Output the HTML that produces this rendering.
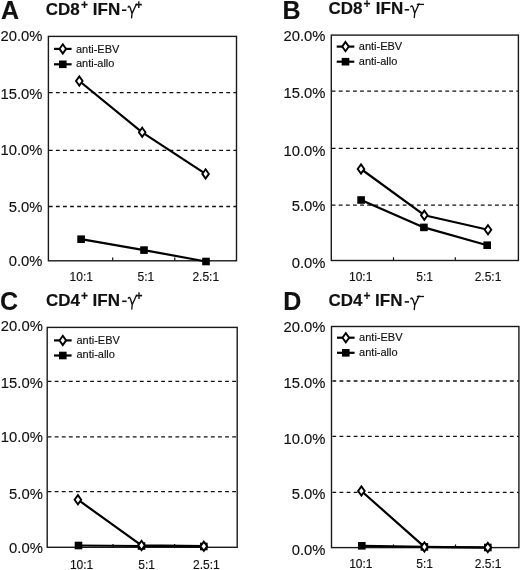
<!DOCTYPE html>
<html><head><meta charset="utf-8"><title>Figure</title>
<style>
html,body{margin:0;padding:0;background:#fff;width:520px;height:570px;overflow:hidden}
svg{display:block;will-change:transform}
text{font-family:"Liberation Sans",sans-serif;fill:#111;stroke:#111;stroke-width:0.15}
.yl{font-size:14.8px;text-anchor:end}
.xl{font-size:12px;text-anchor:middle}
.lg{font-size:11px}
.tt{font-size:17px;font-weight:bold}
.sp{font-size:12px;font-weight:bold}
.gm{fill:none;stroke:#111;stroke-width:1.35;stroke-linecap:round;stroke-linejoin:round}
.mn{stroke:#111;stroke-width:1.3}
.hy{fill:#111}
.pl{font-size:25px;font-weight:bold}
.bx{fill:none;stroke:#1a1a1a;stroke-width:1.4}
.gr{stroke:#111;stroke-width:1.3;stroke-dasharray:3.8 3.3}
.tk{stroke:#111;stroke-width:1.2}
.dl{fill:none;stroke:#000;stroke-width:2.2;stroke-linejoin:round}
.dm{fill:#fff;stroke:#000;stroke-width:1.9;stroke-linejoin:miter}
.sq{fill:#000}
</style></head>
<body>
<svg width="520" height="570" viewBox="0 0 520 570">
<line class="gr" x1="48.8" y1="92.7" x2="236.5" y2="92.7"/>
<line class="gr" x1="48.8" y1="150.3" x2="236.5" y2="150.3"/>
<line class="gr" x1="48.8" y1="206.5" x2="236.5" y2="206.5"/>
<line class="tk" x1="112.7" y1="257.6" x2="112.7" y2="260.8"/>
<line class="tk" x1="174.8" y1="257.6" x2="174.8" y2="260.8"/>
<rect class="bx" x="48.4" y="36.4" width="188.1" height="224.4"/>
<polyline class="dl" points="79.3,81 142.2,132.3 205.6,173.9"/>
<polyline class="dl" points="81.1,239.2 144,250.1 206,261.5"/>
<rect class="sq" x="77.3" y="235.4" width="7.6" height="7.6"/>
<rect class="sq" x="140.2" y="246.3" width="7.6" height="7.6"/>
<rect class="sq" x="202.2" y="257.7" width="7.6" height="7.6"/>
<path class="dm" d="M79.3 76.4L82.6 81L79.3 85.6L76 81Z"/>
<path class="dm" d="M142.2 127.7L145.5 132.3L142.2 136.9L138.9 132.3Z"/>
<path class="dm" d="M205.6 169.3L208.9 173.9L205.6 178.5L202.3 173.9Z"/>
<line class="dl" x1="54" y1="48.9" x2="71.6" y2="48.9"/>
<path class="dm" d="M62.8 44.3L66.1 48.9L62.8 53.5L59.5 48.9Z"/>
<line class="dl" x1="54" y1="64.3" x2="71.6" y2="64.3"/>
<rect class="sq" x="59" y="60.5" width="7.6" height="7.6"/>
<text class="lg" x="75.9" y="52.5">anti-EBV</text>
<text class="lg" x="75.9" y="66.9">anti-allo</text>
<text class="yl" x="42.5" y="40.77">20.0%</text>
<text class="yl" x="42.5" y="99.02">15.0%</text>
<text class="yl" x="42.5" y="154.77">10.0%</text>
<text class="yl" x="42.5" y="212.27">5.0%</text>
<text class="yl" x="42.5" y="266.17">0.0%</text>
<text class="xl" x="81.3" y="280.79">10:1</text>
<text class="xl" x="145.9" y="280.79">5:1</text>
<text class="xl" x="205.75" y="280.79">2.5:1</text>
<text class="tt" x="45.7" y="14.6">CD8</text>
<text class="sp" x="80.9" y="8.6">+</text>
<text class="tt" x="92.8" y="14.6">IFN</text>
<rect class="hy" x="122" y="9.4" width="4.4" height="1.6"/>
<path class="gm" d="M128.1 7.2 Q129.2 5 130.4 8.2 L132 13.6 M136.3 4.2 L132 13.6 L131.6 17.9"/>
<text class="sp" x="135.3" y="9.2">+</text>
<text class="pl" x="0.9" y="18.6">A</text>
<line class="gr" x1="331.7" y1="91.2" x2="518.4" y2="91.2"/>
<line class="gr" x1="331.7" y1="148.3" x2="518.4" y2="148.3"/>
<line class="gr" x1="331.7" y1="205.1" x2="518.4" y2="205.1"/>
<line class="tk" x1="393.5" y1="257.3" x2="393.5" y2="260.5"/>
<line class="tk" x1="455.3" y1="257.3" x2="455.3" y2="260.5"/>
<rect class="bx" x="331.3" y="35.1" width="187.1" height="225.4"/>
<polyline class="dl" points="361,169 424.3,215.2 488,229.8"/>
<polyline class="dl" points="361.1,200 423.9,227.4 487.2,245.2"/>
<rect class="sq" x="357.3" y="196.2" width="7.6" height="7.6"/>
<rect class="sq" x="420.1" y="223.6" width="7.6" height="7.6"/>
<rect class="sq" x="483.4" y="241.4" width="7.6" height="7.6"/>
<path class="dm" d="M361 164.4L364.3 169L361 173.6L357.7 169Z"/>
<path class="dm" d="M424.3 210.6L427.6 215.2L424.3 219.8L421 215.2Z"/>
<path class="dm" d="M488 225.2L491.3 229.8L488 234.4L484.7 229.8Z"/>
<line class="dl" x1="336.7" y1="46.6" x2="354.3" y2="46.6"/>
<path class="dm" d="M345.5 42L348.8 46.6L345.5 51.2L342.2 46.6Z"/>
<line class="dl" x1="336.7" y1="61.7" x2="354.3" y2="61.7"/>
<rect class="sq" x="341.7" y="57.9" width="7.6" height="7.6"/>
<text class="lg" x="358.8" y="50.2">anti-EBV</text>
<text class="lg" x="358.8" y="64.6">anti-allo</text>
<text class="yl" x="325.5" y="40.97">20.0%</text>
<text class="yl" x="325.5" y="97.92">15.0%</text>
<text class="yl" x="325.5" y="155.57">10.0%</text>
<text class="yl" x="325.5" y="211.17">5.0%</text>
<text class="yl" x="325.5" y="268.47">0.0%</text>
<text class="xl" x="360.65" y="280.69">10:1</text>
<text class="xl" x="424.6" y="280.69">5:1</text>
<text class="xl" x="488" y="280.69">2.5:1</text>
<text class="tt" x="328.4" y="14.2">CD8</text>
<text class="sp" x="363.6" y="8.2">+</text>
<text class="tt" x="375.8" y="14.2">IFN</text>
<rect class="hy" x="404.7" y="9" width="4.4" height="1.6"/>
<path class="gm" d="M410.8 6.8 Q411.9 4.6 413.1 7.8 L414.7 13.2 M419 3.8 L414.7 13.2 L414.3 17.5"/>
<line class="mn" x1="416.8" y1="4.4" x2="424" y2="4.4"/>
<text class="pl" x="282.6" y="18.5">B</text>
<line class="gr" x1="47.6" y1="381.4" x2="237.2" y2="381.4"/>
<line class="gr" x1="47.6" y1="436.9" x2="237.2" y2="436.9"/>
<line class="gr" x1="47.6" y1="491.7" x2="237.2" y2="491.7"/>
<line class="tk" x1="113" y1="544.1" x2="113" y2="547.3"/>
<line class="tk" x1="174.6" y1="544.1" x2="174.6" y2="547.3"/>
<rect class="bx" x="47.2" y="327.4" width="190" height="219.9"/>
<polyline class="dl" points="77.9,499.7 141.5,545.4 203.8,546.2"/>
<polyline class="dl" points="78.5,545.5 141.5,546 203.8,546.5"/>
<rect class="sq" x="74.7" y="541.7" width="7.6" height="7.6"/>
<rect class="sq" x="137.7" y="542.2" width="7.6" height="7.6"/>
<rect class="sq" x="200" y="542.7" width="7.6" height="7.6"/>
<path class="dm" d="M77.9 495.1L81.2 499.7L77.9 504.3L74.6 499.7Z"/>
<path class="dm" d="M141.5 540.8L144.8 545.4L141.5 550L138.2 545.4Z"/>
<path class="dm" d="M203.8 541.6L207.1 546.2L203.8 550.8L200.5 546.2Z"/>
<line class="dl" x1="54" y1="340.4" x2="71.6" y2="340.4"/>
<path class="dm" d="M62.8 335.8L66.1 340.4L62.8 345L59.5 340.4Z"/>
<line class="dl" x1="54" y1="355.5" x2="71.6" y2="355.5"/>
<rect class="sq" x="59" y="351.7" width="7.6" height="7.6"/>
<text class="lg" x="76.4" y="343.7">anti-EBV</text>
<text class="lg" x="76.4" y="358.2">anti-allo</text>
<text class="yl" x="42.8" y="331.37">20.0%</text>
<text class="yl" x="42.8" y="387.67">15.0%</text>
<text class="yl" x="42.8" y="442.17">10.0%</text>
<text class="yl" x="42.8" y="498.87">5.0%</text>
<text class="yl" x="42.8" y="552.67">0.0%</text>
<text class="xl" x="81.6" y="568.79">10:1</text>
<text class="xl" x="146.6" y="568.79">5:1</text>
<text class="xl" x="206.4" y="568.79">2.5:1</text>
<text class="tt" x="45.9" y="305.7">CD4</text>
<text class="sp" x="81.1" y="299.7">+</text>
<text class="tt" x="92.6" y="305.7">IFN</text>
<rect class="hy" x="122.2" y="300.5" width="4.4" height="1.6"/>
<path class="gm" d="M128.3 298.3 Q129.4 296.1 130.6 299.3 L132.2 304.7 M136.5 295.3 L132.2 304.7 L131.8 309"/>
<text class="sp" x="135.5" y="300.3">+</text>
<text class="pl" x="-0.1" y="309.5">C</text>
<line class="gr" x1="332.4" y1="381" x2="518.9" y2="381"/>
<line class="gr" x1="332.4" y1="436.4" x2="518.9" y2="436.4"/>
<line class="gr" x1="332.4" y1="492.4" x2="518.9" y2="492.4"/>
<line class="tk" x1="393.5" y1="544.4" x2="393.5" y2="547.6"/>
<line class="tk" x1="455.5" y1="544.4" x2="455.5" y2="547.6"/>
<rect class="bx" x="331.5" y="326.5" width="187.4" height="221.1"/>
<polyline class="dl" points="361.4,491 424.4,546.9 487.8,547.5"/>
<polyline class="dl" points="361.8,545.8 424.4,546.9 487.8,547.5"/>
<rect class="sq" x="358" y="542" width="7.6" height="7.6"/>
<rect class="sq" x="420.6" y="543.1" width="7.6" height="7.6"/>
<rect class="sq" x="484" y="543.7" width="7.6" height="7.6"/>
<path class="dm" d="M361.4 486.4L364.7 491L361.4 495.6L358.1 491Z"/>
<path class="dm" d="M424.4 542.3L427.7 546.9L424.4 551.5L421.1 546.9Z"/>
<path class="dm" d="M487.8 542.9L491.1 547.5L487.8 552.1L484.5 547.5Z"/>
<line class="dl" x1="337" y1="337.7" x2="354.6" y2="337.7"/>
<path class="dm" d="M345.8 333.1L349.1 337.7L345.8 342.3L342.5 337.7Z"/>
<line class="dl" x1="337" y1="352.8" x2="354.6" y2="352.8"/>
<rect class="sq" x="342" y="349" width="7.6" height="7.6"/>
<text class="lg" x="359.1" y="341.2">anti-EBV</text>
<text class="lg" x="359.1" y="355.6">anti-allo</text>
<text class="yl" x="325.5" y="331.67">20.0%</text>
<text class="yl" x="325.5" y="387.97">15.0%</text>
<text class="yl" x="325.5" y="443.57">10.0%</text>
<text class="yl" x="325.5" y="498.67">5.0%</text>
<text class="yl" x="325.5" y="555.37">0.0%</text>
<text class="xl" x="360.85" y="567.69">10:1</text>
<text class="xl" x="424.6" y="567.69">5:1</text>
<text class="xl" x="488.15" y="567.69">2.5:1</text>
<text class="tt" x="328.4" y="306.3">CD4</text>
<text class="sp" x="363.6" y="300.3">+</text>
<text class="tt" x="375.1" y="306.3">IFN</text>
<rect class="hy" x="404.7" y="301.1" width="4.4" height="1.6"/>
<path class="gm" d="M410.8 298.9 Q411.9 296.7 413.1 299.9 L414.7 305.3 M419 295.9 L414.7 305.3 L414.3 309.6"/>
<line class="mn" x1="416.8" y1="296.5" x2="424" y2="296.5"/>
<text class="pl" x="283.3" y="309.6">D</text>
</svg>
</body></html>
